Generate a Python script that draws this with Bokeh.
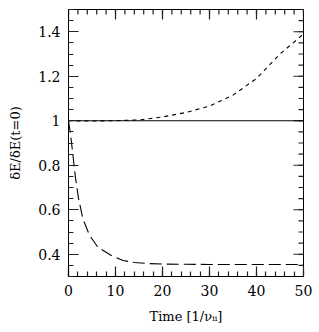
import math
from bokeh.plotting import figure
from bokeh.models import FixedTicker, Range1d
from bokeh.embed import file_html
from bokeh.resources import INLINE

# data
t_solid = [0, 50]
y_solid = [1.0, 1.0]

t_short = [0, 5, 10, 15, 20, 25, 30, 35, 40, 45, 47.5, 50]
y_short = [1.0, 0.999, 1.0, 1.004, 1.017, 1.037, 1.066, 1.115, 1.19, 1.30, 1.345, 1.39]

t_long = [0, 0.43, 0.92, 1.49, 2.13, 3.05, 4.47, 6.24, 9.1, 11.6, 14, 17, 20, 25, 30, 40, 50]
y_long = [1.0, 0.94, 0.85, 0.742, 0.651, 0.56, 0.485, 0.432, 0.394, 0.372, 0.363, 0.358,
          0.356, 0.355, 0.354, 0.354, 0.354]

x_major = [0, 10, 20, 30, 40, 50]
x_minor = [v for v in range(0, 51, 2)]
y_major = [0.4, 0.6, 0.8, 1.0, 1.2, 1.4]
y_labels = ["0.4", "0.6", "0.8", "1", "1.2", "1.4"]
y_minor = [round(0.3 + 0.05 * i, 2) for i in range(25)]

X0, X1 = 0, 50
Y0, Y1 = 0.3, 1.5
FONT = "DejaVu Serif"
TICK_COLOR = "#222222"

p = figure(width=319, height=332, output_backend="svg", toolbar_location=None,
           x_range=Range1d(X0, X1), y_range=Range1d(Y0, Y1),
           min_border_left=68, min_border_right=16, min_border_top=9, min_border_bottom=56)
p.grid.visible = False
p.background_fill_color = "white"
p.outline_line_color = "black"
p.outline_line_width = 1

xt = FixedTicker(ticks=x_major, minor_ticks=x_minor)
yt = FixedTicker(ticks=y_major, minor_ticks=y_minor)

xax = p.xaxis[0]
yax = p.yaxis[0]
for ax, tk in ((xax, xt), (yax, yt)):
    ax.ticker = tk
    ax.major_tick_in = 10
    ax.major_tick_out = 0
    ax.minor_tick_in = 5
    ax.minor_tick_out = 0
    ax.axis_line_color = "black"
    ax.major_tick_line_color = TICK_COLOR
    ax.major_tick_line_width = 1.2
    ax.minor_tick_line_color = TICK_COLOR
    ax.minor_tick_line_width = 1.2
    ax.major_label_text_font = FONT
    ax.major_label_text_color = "black"
    ax.major_label_text_font_size = "14px"
    ax.major_label_standoff = 8
    ax.axis_label_text_font = FONT
    ax.axis_label_text_font_style = "normal"
    ax.axis_label_text_font_size = "13px"
    ax.axis_label_text_color = "black"
yax.major_label_overrides = {v: s for v, s in zip(y_major, y_labels)}
xax.axis_label = "Time [1/νᵢᵢ]"
yax.axis_label = "δE/δE(t=0)"
xax.axis_label_standoff = 10
yax.axis_label_standoff = 12

# mirrored inward ticks on the top and right edges (screen-length rays)
p.ray(x_major, [Y1] * len(x_major), length=10, angle=-math.pi / 2,
      length_units="screen", line_color=TICK_COLOR, line_width=1.2)
p.ray(x_minor, [Y1] * len(x_minor), length=5, angle=-math.pi / 2,
      length_units="screen", line_color=TICK_COLOR, line_width=1.2)
p.ray([X1] * len(y_major), y_major, length=10, angle=math.pi,
      length_units="screen", line_color=TICK_COLOR, line_width=1.2)
p.ray([X1] * len(y_minor), y_minor, length=5, angle=math.pi,
      length_units="screen", line_color=TICK_COLOR, line_width=1.2)

p.line(t_solid, y_solid, line_color="black", line_width=1.1)
p.line(t_short, y_short, line_color="black", line_width=1.1, line_dash="4 4")
p.line(t_long, y_long, line_color="black", line_width=1.1, line_dash="12 5")

open("out.html", "w").write(file_html(p, INLINE))
